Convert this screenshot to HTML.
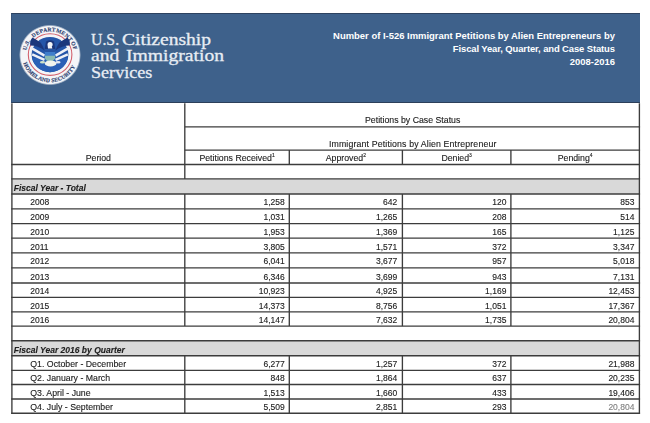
<!DOCTYPE html><html><head><meta charset="utf-8"><title>I-526</title><style>
html,body{margin:0;padding:0;background:#fff;}
body{width:650px;height:423px;position:relative;overflow:hidden;font-family:"Liberation Sans",sans-serif;font-size:8.5px;color:#202020;}
.a{position:absolute;white-space:nowrap;line-height:1;-webkit-text-stroke:0.12px currentColor;}
.hl{position:absolute;height:1.35px;background:#3c3c3c;}
.vl{position:absolute;width:1.35px;background:#3c3c3c;}
#w{position:absolute;left:0;top:0;width:650px;height:423px;filter:blur(0.35px);}
.r{text-align:right;}
.c{text-align:center;}
.g{position:absolute;background:#d9d9d9;}
.bi{font-weight:bold;font-style:italic;}
.t{font-size:8.75px;}
sup{font-size:5px;line-height:0;vertical-align:baseline;position:relative;top:-3.5px;}
.hdr{position:absolute;left:11px;top:13.4px;width:629px;height:90px;background:#3e618b;border-top:1px solid #2d4260;border-left:1px solid #36547a;border-bottom:1.3px solid #2c3f5a;box-sizing:border-box;}
.ttl{position:absolute;right:35.1px;color:#fff;font-weight:bold;font-size:9.45px;white-space:nowrap;line-height:1;}
.ag{position:absolute;transform-origin:0 0;-webkit-text-stroke:0.3px #e8edf4;color:#e8edf4;font-family:"Liberation Serif",serif;font-size:17px;white-space:nowrap;line-height:1;}

</style></head><body><div id="w">
<div class="hdr"></div>
<svg class="a" style="left:16.2px;top:20.7px" width="68" height="68" viewBox="-34 -34 68 68">
<defs>
<path id="arcT" d="M -24.2 0 A 24.2 23.6 0 1 1 24.2 0"/>
<path id="arcB" d="M -27.9 0 A 27.9 27.2 0 0 0 27.9 0"/>
<radialGradient id="sg" cx="50%" cy="50%" r="50%"><stop offset="0.94" stop-color="#f4f5f8"/><stop offset="1" stop-color="#f4f5f8" stop-opacity="0"/></radialGradient>
<clipPath id="dc"><ellipse cx="0" cy="-0.4" rx="18.4" ry="17.6"/></clipPath>
</defs>
<ellipse rx="31" ry="30.4" fill="url(#sg)"/>
<ellipse cx="0.1" cy="-0.4" rx="21.8" ry="20.8" fill="none" stroke="#d2606c" stroke-width="1.1"/>
<g font-family="Liberation Serif" font-weight="bold" font-size="5.6" fill="#2d4170" stroke="#2d4170" stroke-width="0.15">
<text letter-spacing="0.2"><textPath href="#arcT" startOffset="6%">U.S.</textPath></text>
<text letter-spacing="0.25"><textPath href="#arcT" startOffset="25.5%">DEPARTMENT</textPath></text>
<text letter-spacing="0.25"><textPath href="#arcT" startOffset="82.5%">OF</textPath></text>
<text letter-spacing="0.15"><textPath href="#arcB" startOffset="9.5%">HOMELAND SECURITY</textPath></text>
</g>
<!-- inner disc -->
<ellipse cx="0" cy="-0.4" rx="18.4" ry="17.6" fill="#2455a8"/>
<g clip-path="url(#dc)">
<rect x="-19" y="3" width="38" height="16" fill="#2a60b6"/>
</g>
<!-- white stripes in wings -->
<g stroke="#eef1f7" stroke-width="2.5" fill="none">
<path d="M -19 -7.2 L -5.5 0.6"/>
<path d="M -17.8 -0.6 L -5.5 4.9"/>
<path d="M 19 -7.2 L 5.5 0.6"/>
<path d="M 17.8 -0.6 L 5.5 4.9"/>
</g>
<!-- navy top of wings -->
<path d="M -5.5 -4.5 Q -7.5 -10 -9.5 -12.5 Q -13 -15 -17.5 -17.5 Q -20.5 -14.5 -19.8 -9.5 Q -12 -9.5 -5.5 -4.5 Z" fill="#1b377c"/>
<path d="M 5.5 -4.5 Q 7.5 -10 9.5 -12.5 Q 13 -15 17.5 -17.5 Q 20.5 -14.5 19.8 -9.5 Q 12 -9.5 5.5 -4.5 Z" fill="#1b377c"/>
<!-- body -->
<path d="M -4 -13.5 Q 0 -16 4 -13.5 L 5.6 -4 L -5.6 -4 Z" fill="#1b377c"/>
<!-- head -->
<path d="M -2.5 -10.6 A 2.6 2.6 0 1 1 1.8 -8.4 L 2.4 -6.6 L -2 -6.6 Z" fill="#f2f4f8"/>
<!-- shield -->
<path d="M -5.2 -5.6 H 5.2 V 2 Q 5.2 5.6 0 7 Q -5.2 5.6 -5.2 2 Z" fill="#3f7ecb"/>
<path d="M -5.2 -5.6 H 5.2 V -3 H -5.2 Z" fill="#2754a2"/>
<path d="M -5.2 0.8 H 5.2 V 2 Q 5.2 5.6 0 7 Q -5.2 5.6 -5.2 2 Z" fill="#a9d4a6" opacity="0.7"/>
<!-- talons / branch white -->
<ellipse cx="0.6" cy="8.4" rx="5.8" ry="3" fill="#f1f4ee"/>
<ellipse cx="-7.5" cy="7.2" rx="2.6" ry="1.3" fill="#cfe3c8"/>
<ellipse cx="8" cy="7.2" rx="2.6" ry="1.3" fill="#e4e9f3"/>
</svg>

<div class="ag" style="left:90.60px;top:30.60px;transform:scaleX(0.9300)">U.S.</div>
<div class="ag" style="left:122.30px;top:30.60px;transform:scaleX(1.1500)">Citizenship</div>
<div class="ag" style="left:90.90px;top:47.20px;transform:scaleX(1.1500)">and</div>
<div class="ag" style="left:125.90px;top:47.20px;transform:scaleX(1.1540)">Immigration</div>
<div class="ag" style="left:90.50px;top:64.00px;transform:scaleX(1.0650)">Services</div>
<div class="ttl" style="top:31px">Number of I-526 Immigrant Petitions by Alien Entrepreneurs by</div>
<div class="ttl" style="top:44.3px;letter-spacing:-0.11px">Fiscal Year, Quarter, and Case Status</div>
<div class="ttl" style="top:57.2px">2008-2016</div>
<div class="g" style="left:11.9px;top:178.9px;width:627.5px;height:15.099999999999994px"></div>
<div class="g" style="left:11.9px;top:340.7px;width:627.5px;height:15.0px"></div>
<svg class="a" style="left:0;top:0" width="650" height="423" viewBox="0 0 650 423"><g stroke="#3c3c3c" stroke-width="1.35" fill="none">
<line x1="11.90" y1="103.30" x2="11.90" y2="413.88"/>
<line x1="639.40" y1="103.30" x2="639.40" y2="413.88"/>
<line x1="184.80" y1="103.30" x2="184.80" y2="178.90"/>
<line x1="184.80" y1="194.00" x2="184.80" y2="326.10"/>
<line x1="184.80" y1="355.70" x2="184.80" y2="413.20"/>
<line x1="289.30" y1="150.10" x2="289.30" y2="164.50"/>
<line x1="289.30" y1="194.00" x2="289.30" y2="326.10"/>
<line x1="289.30" y1="355.70" x2="289.30" y2="413.20"/>
<line x1="402.40" y1="150.10" x2="402.40" y2="164.50"/>
<line x1="402.40" y1="194.00" x2="402.40" y2="326.10"/>
<line x1="402.40" y1="355.70" x2="402.40" y2="413.20"/>
<line x1="510.90" y1="150.10" x2="510.90" y2="164.50"/>
<line x1="510.90" y1="194.00" x2="510.90" y2="326.10"/>
<line x1="510.90" y1="355.70" x2="510.90" y2="413.20"/>
<line x1="184.80" y1="126.80" x2="640.07" y2="126.80"/>
<line x1="184.80" y1="150.10" x2="640.07" y2="150.10"/>
<line x1="11.22" y1="164.50" x2="640.07" y2="164.50"/>
<line x1="11.22" y1="178.90" x2="640.07" y2="178.90"/>
<line x1="11.22" y1="194.00" x2="640.07" y2="194.00"/>
<line x1="11.22" y1="208.80" x2="640.07" y2="208.80"/>
<line x1="11.22" y1="223.60" x2="640.07" y2="223.60"/>
<line x1="11.22" y1="238.10" x2="640.07" y2="238.10"/>
<line x1="11.22" y1="252.90" x2="640.07" y2="252.90"/>
<line x1="11.22" y1="267.80" x2="640.07" y2="267.80"/>
<line x1="11.22" y1="283.00" x2="640.07" y2="283.00"/>
<line x1="11.22" y1="297.40" x2="640.07" y2="297.40"/>
<line x1="11.22" y1="311.90" x2="640.07" y2="311.90"/>
<line x1="11.22" y1="326.10" x2="640.07" y2="326.10"/>
<line x1="11.22" y1="340.70" x2="640.07" y2="340.70"/>
<line x1="11.22" y1="355.70" x2="640.07" y2="355.70"/>
<line x1="11.22" y1="370.30" x2="640.07" y2="370.30"/>
<line x1="11.22" y1="384.50" x2="640.07" y2="384.50"/>
<line x1="11.22" y1="399.00" x2="640.07" y2="399.00"/>
<line x1="11.22" y1="413.20" x2="640.07" y2="413.20"/>
</g></svg>
<div class="a c t" style="left:185.40px;top:115.90px;width:454.60px;">Petitions by Case Status</div>
<div class="a c t" style="left:185.40px;top:140.00px;width:454.60px;letter-spacing:0.15px;">Immigrant Petitions by Alien Entrepreneur</div>
<div class="a c t" style="left:11.90px;top:153.60px;width:172.90px;">Period</div>
<div class="a c t" style="left:184.80px;top:153.60px;width:104.50px;">Petitions Received<sup>1</sup></div>
<div class="a c t" style="left:289.30px;top:153.60px;width:113.10px;">Approved<sup>2</sup></div>
<div class="a c t" style="left:402.40px;top:153.60px;width:108.50px;">Denied<sup>3</sup></div>
<div class="a c t" style="left:510.90px;top:153.60px;width:128.50px;">Pending<sup>4</sup></div>
<div class="a bi" style="left:13.80px;top:184.10px;">Fiscal Year - Total</div>
<div class="a bi" style="left:13.80px;top:345.80px;">Fiscal Year 2016 by Quarter</div>
<div class="a " style="left:30.30px;top:198.40px;">2008</div>
<div class="a r" style="left:224.80px;top:198.40px;width:60.00px;">1,258</div>
<div class="a r" style="left:337.30px;top:198.40px;width:60.00px;">642</div>
<div class="a r" style="left:446.40px;top:198.40px;width:60.00px;">120</div>
<div class="a r" style="left:574.40px;top:198.40px;width:60.00px;">853</div>
<div class="a " style="left:30.30px;top:213.20px;">2009</div>
<div class="a r" style="left:224.80px;top:213.20px;width:60.00px;">1,031</div>
<div class="a r" style="left:337.30px;top:213.20px;width:60.00px;">1,265</div>
<div class="a r" style="left:446.40px;top:213.20px;width:60.00px;">208</div>
<div class="a r" style="left:574.40px;top:213.20px;width:60.00px;">514</div>
<div class="a " style="left:30.30px;top:227.70px;">2010</div>
<div class="a r" style="left:224.80px;top:227.70px;width:60.00px;">1,953</div>
<div class="a r" style="left:337.30px;top:227.70px;width:60.00px;">1,369</div>
<div class="a r" style="left:446.40px;top:227.70px;width:60.00px;">165</div>
<div class="a r" style="left:574.40px;top:227.70px;width:60.00px;">1,125</div>
<div class="a " style="left:30.30px;top:242.50px;">2011</div>
<div class="a r" style="left:224.80px;top:242.50px;width:60.00px;">3,805</div>
<div class="a r" style="left:337.30px;top:242.50px;width:60.00px;">1,571</div>
<div class="a r" style="left:446.40px;top:242.50px;width:60.00px;">372</div>
<div class="a r" style="left:574.40px;top:242.50px;width:60.00px;">3,347</div>
<div class="a " style="left:30.30px;top:257.40px;">2012</div>
<div class="a r" style="left:224.80px;top:257.40px;width:60.00px;">6,041</div>
<div class="a r" style="left:337.30px;top:257.40px;width:60.00px;">3,677</div>
<div class="a r" style="left:446.40px;top:257.40px;width:60.00px;">957</div>
<div class="a r" style="left:574.40px;top:257.40px;width:60.00px;">5,018</div>
<div class="a " style="left:30.30px;top:272.60px;">2013</div>
<div class="a r" style="left:224.80px;top:272.60px;width:60.00px;">6,346</div>
<div class="a r" style="left:337.30px;top:272.60px;width:60.00px;">3,699</div>
<div class="a r" style="left:446.40px;top:272.60px;width:60.00px;">943</div>
<div class="a r" style="left:574.40px;top:272.60px;width:60.00px;">7,131</div>
<div class="a " style="left:30.30px;top:287.00px;">2014</div>
<div class="a r" style="left:224.80px;top:287.00px;width:60.00px;">10,923</div>
<div class="a r" style="left:337.30px;top:287.00px;width:60.00px;">4,925</div>
<div class="a r" style="left:446.40px;top:287.00px;width:60.00px;">1,169</div>
<div class="a r" style="left:574.40px;top:287.00px;width:60.00px;">12,453</div>
<div class="a " style="left:30.30px;top:301.50px;">2015</div>
<div class="a r" style="left:224.80px;top:301.50px;width:60.00px;">14,373</div>
<div class="a r" style="left:337.30px;top:301.50px;width:60.00px;">8,756</div>
<div class="a r" style="left:446.40px;top:301.50px;width:60.00px;">1,051</div>
<div class="a r" style="left:574.40px;top:301.50px;width:60.00px;">17,367</div>
<div class="a " style="left:30.30px;top:315.70px;">2016</div>
<div class="a r" style="left:224.80px;top:315.70px;width:60.00px;">14,147</div>
<div class="a r" style="left:337.30px;top:315.70px;width:60.00px;">7,632</div>
<div class="a r" style="left:446.40px;top:315.70px;width:60.00px;">1,735</div>
<div class="a r" style="left:574.40px;top:315.70px;width:60.00px;">20,804</div>
<div class="a t" style="left:30.30px;top:359.90px;">Q1. October - December</div>
<div class="a r" style="left:224.80px;top:359.90px;width:60.00px;">6,277</div>
<div class="a r" style="left:337.30px;top:359.90px;width:60.00px;">1,257</div>
<div class="a r" style="left:446.40px;top:359.90px;width:60.00px;">372</div>
<div class="a r" style="left:574.40px;top:359.90px;width:60.00px;">21,988</div>
<div class="a t" style="left:30.30px;top:374.10px;">Q2. January - March</div>
<div class="a r" style="left:224.80px;top:374.10px;width:60.00px;">848</div>
<div class="a r" style="left:337.30px;top:374.10px;width:60.00px;">1,864</div>
<div class="a r" style="left:446.40px;top:374.10px;width:60.00px;">637</div>
<div class="a r" style="left:574.40px;top:374.10px;width:60.00px;">20,235</div>
<div class="a t" style="left:30.30px;top:388.60px;">Q3. April - June</div>
<div class="a r" style="left:224.80px;top:388.60px;width:60.00px;">1,513</div>
<div class="a r" style="left:337.30px;top:388.60px;width:60.00px;">1,660</div>
<div class="a r" style="left:446.40px;top:388.60px;width:60.00px;">433</div>
<div class="a r" style="left:574.40px;top:388.60px;width:60.00px;">19,406</div>
<div class="a t" style="left:30.30px;top:402.80px;">Q4. July - September</div>
<div class="a r" style="left:224.80px;top:402.80px;width:60.00px;">5,509</div>
<div class="a r" style="left:337.30px;top:402.80px;width:60.00px;">2,851</div>
<div class="a r" style="left:446.40px;top:402.80px;width:60.00px;">293</div>
<div class="a r" style="left:574.40px;top:402.80px;width:60.00px;color:#808080;">20,804</div>
</div></body></html>
